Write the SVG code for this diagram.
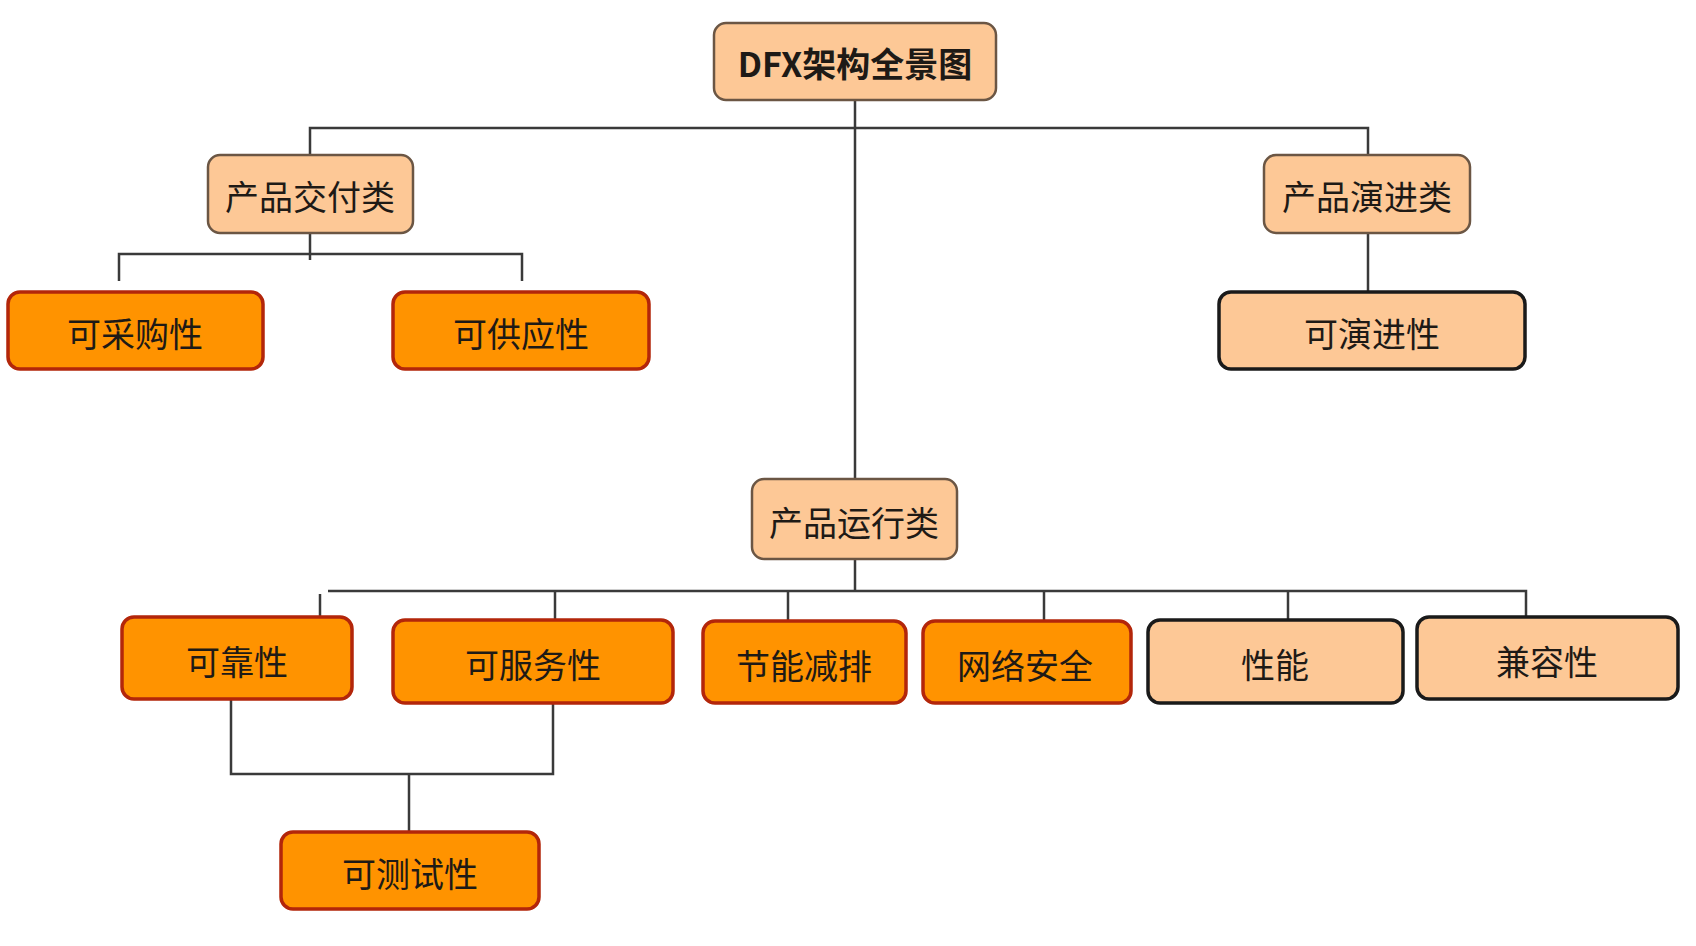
<svg xmlns="http://www.w3.org/2000/svg" width="1696" height="946" viewBox="0 0 1696 946">
<style>
.cat{fill:#FDC896;stroke:#6b5644;stroke-width:2.5}
.hot{fill:#FF9300;stroke:#B3260A;stroke-width:3.5}
.pk{fill:#FDC896;stroke:#1a1a1a;stroke-width:3.5}
text{font-family:"Noto Sans CJK SC","Liberation Sans",sans-serif;font-size:34px;fill:#1e1a16;text-anchor:middle;dominant-baseline:central}
.title{font-weight:bold}
.ln{fill:none;stroke:#3a3a3a;stroke-width:2.5}
</style>
<rect width="1696" height="946" fill="#ffffff"/>
<g id="connectors">
<path class="ln" d="M855 100V479"/>
<path class="ln" d="M310 155V128H1368V155"/>
<path class="ln" d="M310 233V260"/>
<path class="ln" d="M119 281V254H522V281"/>
<path class="ln" d="M1368 233V292"/>
<path class="ln" d="M855 559V591"/>
<path class="ln" d="M328 591H1526V617"/>
<path class="ln" d="M320 594V622"/>
<path class="ln" d="M555 591V620"/>
<path class="ln" d="M788 591V621"/>
<path class="ln" d="M1044 591V621"/>
<path class="ln" d="M1288 591V620"/>
<path class="ln" d="M231 699V774H553V703"/>
<path class="ln" d="M409 774V832"/>
</g>
<g id="n-root"><rect class="cat" x="714" y="23" width="282" height="77" rx="12"/><text class="title" x="855" y="62">DFX架构全景图</text></g>
<g id="n-deliver"><rect class="cat" x="208" y="155" width="205" height="78" rx="12"/><text x="310" y="195">产品交付类</text></g>
<g id="n-evolve"><rect class="cat" x="1264" y="155" width="206" height="78" rx="12"/><text x="1367" y="195">产品演进类</text></g>
<g id="n-procure"><rect class="hot" x="8" y="292" width="255" height="77" rx="12"/><text x="135" y="332">可采购性</text></g>
<g id="n-supply"><rect class="hot" x="393" y="292" width="256" height="77" rx="12"/><text x="521" y="332">可供应性</text></g>
<g id="n-evolvability"><rect class="pk" x="1219" y="292" width="306" height="77" rx="12"/><text x="1372" y="332">可演进性</text></g>
<g id="n-run"><rect class="cat" x="752" y="479" width="205" height="80" rx="12"/><text x="854" y="521">产品运行类</text></g>
<g id="n-reliab"><rect class="hot" x="122" y="617" width="230" height="82" rx="12"/><text x="237" y="660">可靠性</text></g>
<g id="n-service"><rect class="hot" x="393" y="620" width="280" height="83" rx="12"/><text x="533" y="663">可服务性</text></g>
<g id="n-energy"><rect class="hot" x="703" y="621" width="203" height="82" rx="12"/><text x="804" y="664">节能减排</text></g>
<g id="n-security"><rect class="hot" x="923" y="621" width="208" height="82" rx="12"/><text x="1025" y="664">网络安全</text></g>
<g id="n-perf"><rect class="pk" x="1148" y="620" width="255" height="83" rx="12"/><text x="1275" y="663">性能</text></g>
<g id="n-compat"><rect class="pk" x="1417" y="617" width="261" height="82" rx="12"/><text x="1547" y="660">兼容性</text></g>
<g id="n-test"><rect class="hot" x="281" y="832" width="258" height="77" rx="12"/><text x="410" y="872">可测试性</text></g>
</svg>
